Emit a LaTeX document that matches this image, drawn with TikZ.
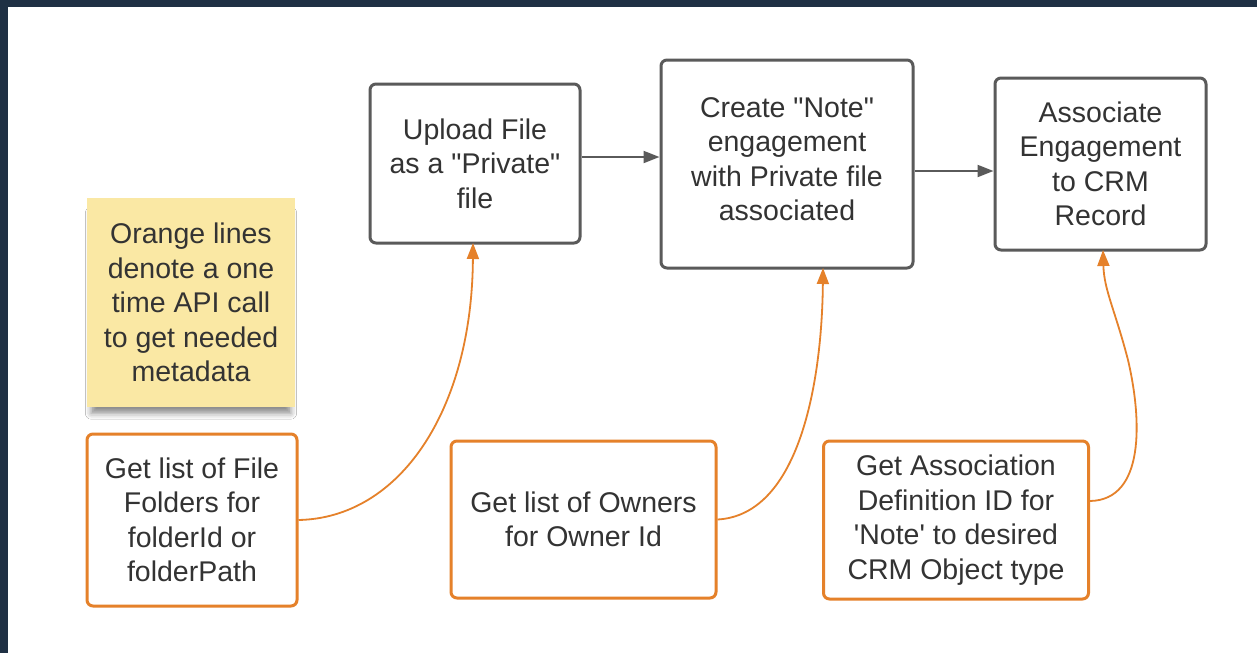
\documentclass[tikz,border=0pt]{standalone}
\usepackage{fontspec}
\setmainfont{Liberation Sans}[Ligatures=TeXOff]
\usetikzlibrary{arrows.meta,shadows.blur}
\definecolor{navy}{HTML}{1F3044}
\definecolor{boxgray}{HTML}{5A5A5A}
\definecolor{txt}{HTML}{333333}
\definecolor{orng}{HTML}{E5812A}
\definecolor{sticky}{HTML}{FAE8A4}
\begin{document}
\begin{tikzpicture}[x=1pt,y=-1pt,
  every node/.style={font=\fontsize{28.5}{34.5}\selectfont, text=txt, align=center, inner sep=0pt},
  graybox/.style={draw=boxgray, line width=3pt, rounded corners=6pt, fill=white},
  orangebox/.style={draw=orng, line width=3pt, rounded corners=6pt, fill=white},
  grayarrow/.style={draw=boxgray, line width=2pt, -{Triangle[length=16pt,width=12pt]}},
  orangearrow/.style={draw=orng, line width=1.8pt, -{Triangle[length=16pt,width=12pt]}}]
\useasboundingbox (0,0) rectangle (1257,653);
\fill[white] (0,0) rectangle (1257,653);
\fill[navy] (0,0) rectangle (1257,7);
\fill[navy] (0,0) rectangle (8,653);
% sticky note
\node[fill=sticky, minimum width=208pt, minimum height=209pt,
  blur shadow={shadow xshift=0pt, shadow yshift=-11pt, shadow scale=0.96, shadow blur radius=6pt, shadow opacity=45}] (note) at (191,302.5)
  {Orange lines\\denote a one\\time API call\\to get needed\\metadata};
% main boxes
\node[graybox, minimum width=210pt, minimum height=159pt] (upload) at (475,163.5)
  {Upload File\\as a "Private"\\file};
\node[graybox, minimum width=252pt, minimum height=208pt] (create) at (787,164)
  {Create "Note"\\engagement\\with Private file\\associated\\[-24.5pt]};
\node[graybox, minimum width=211pt, minimum height=172pt] (assoc) at (1100.5,164)
  {Associate\\Engagement\\to CRM\\Record};
% orange boxes
\node[orangebox, minimum width=210pt, minimum height=172pt] (folders) at (192,520)
  {Get list of File\\Folders for\\folderId or\\folderPath};
\node[orangebox, minimum width=265pt, minimum height=157pt] (owners) at (583.5,519.5)
  {Get list of Owners\\for Owner Id};
\node[orangebox, minimum width=265pt, minimum height=158pt] (assocdef) at (956,520)
  {Get Association\\Definition ID for\\'Note' to desired\\CRM Object type};
% gray arrows
\draw[grayarrow] (upload.east |- 0,157) -- (create.west |- 0,157);
\draw[grayarrow] (create.east |- 0,171) -- (assoc.west |- 0,171);
% orange connectors
\coordinate (t1) at (473,243);
\coordinate (t2) at (823,268);
\coordinate (t3) at (1103,250);
\draw[orangearrow] (folders.east) .. controls (400,518) and (472,410) .. (t1);
\draw[orangearrow] (owners.east) .. controls (800,515) and (822,380) .. (t2);
\draw[orangearrow] (assocdef.east |- 0,501) .. controls (1145,500) and (1142,420) .. (1128,360)
  .. controls (1115,310) and (1104,290) .. (t3);
\end{tikzpicture}
\end{document}
